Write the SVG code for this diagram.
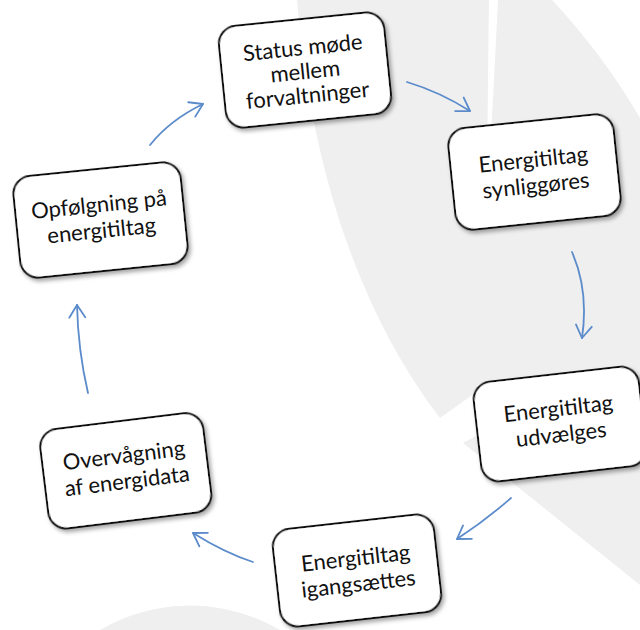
<svg xmlns="http://www.w3.org/2000/svg" width="640" height="630" viewBox="0 0 640 630">
  <defs>
    <style>
      .bg { fill: #efefef; stroke: none; }
      .box { fill: #ffffff; stroke: #111111; stroke-width: 2; filter: url(#shadow); }
      .lbl { font-family: Lato, "Open Sans", "Liberation Sans", sans-serif; font-size: 22px; fill: #111111; text-anchor: middle; }
      .conn { fill: none; stroke: #5b8bcb; stroke-width: 1.8; stroke-linecap: round; marker-end: url(#head); }
    </style>
    <filter id="shadow" x="-20%" y="-20%" width="140%" height="150%">
      <feDropShadow dx="2" dy="3" stdDeviation="2.2" flood-color="#000000" flood-opacity="0.35"/>
    </filter>
    <marker id="head" markerUnits="userSpaceOnUse" viewBox="-15 -10 20 20" refX="0" refY="0" markerWidth="20" markerHeight="20" orient="auto">
      <path d="M-12.5,-8 L0,0 L-12.5,8" fill="none" stroke="#5b8bcb" stroke-width="1.8" stroke-linecap="round" stroke-linejoin="round"/>
    </marker>
  </defs>

  <rect x="0" y="0" width="640" height="630" fill="#ffffff"/>

  <g id="background">
    <path class="bg" d="M297,0 L489,0 C488,60 488,130 486,200 C492,130 495,60 498,0 L552,0 C585,35 615,75 640,118 L640,585 L463,443 L520,412 L475,393 L440,418 C365,320 312,180 297,0 Z"/>
    <circle class="bg" cx="190" cy="783" r="177.5"/>
  </g>

  <g id="connectors">
    <path class="conn" d="M407,82 Q440,92 470,111"/>
    <path class="conn" d="M572,252 Q589,291 582,338"/>
    <path class="conn" d="M511,498 Q486,520 457,539"/>
    <path class="conn" d="M253,562 Q225,553 193,533"/>
    <path class="conn" d="M88,393 Q78,350 77,305"/>
    <path class="conn" d="M150,145 Q170,120 203,104"/>
  </g>

  <g id="node-status" transform="translate(305,70) rotate(-5.8)">
    <rect class="box" x="-83" y="-51" width="166" height="102" rx="18"/>
    <text class="lbl" x="0" y="-15">Status møde</text>
    <text class="lbl" x="0" y="9">mellem</text>
    <text class="lbl" x="0" y="33">forvaltninger</text>
  </g>

  <g id="node-synliggoeres" transform="translate(534.5,172) rotate(-5.9)">
    <rect class="box" x="-83" y="-51" width="166" height="102" rx="18"/>
    <text class="lbl" x="0" y="-5">Energitiltag</text>
    <text class="lbl" x="0" y="21">synliggøres</text>
  </g>

  <g id="node-udvaelges" transform="translate(560,424) rotate(-6.5)">
    <rect class="box" x="-83" y="-50" width="166" height="100" rx="18"/>
    <text class="lbl" x="0" y="-8">Energitiltag</text>
    <text class="lbl" x="0" y="18">udvælges</text>
  </g>

  <g id="node-igangsaettes" transform="translate(357,570.5) rotate(-6.4)">
    <rect class="box" x="-81" y="-49" width="162" height="98" rx="18"/>
    <text class="lbl" x="0" y="-5">Energitiltag</text>
    <text class="lbl" x="0" y="21">igangsættes</text>
  </g>

  <g id="node-overvaagning" transform="translate(125.8,470.8) rotate(-7)">
    <rect class="box" x="-82" y="-50" width="164" height="100" rx="18"/>
    <text class="lbl" x="0" y="-8">Overvågning</text>
    <text class="lbl" x="0" y="18">af energidata</text>
  </g>

  <g id="node-opfoelgning" transform="translate(100.5,220) rotate(-5.8)">
    <rect class="box" x="-84" y="-51" width="168" height="102" rx="18"/>
    <text class="lbl" x="0" y="-8">Opfølgning på</text>
    <text class="lbl" x="0" y="18">energitiltag</text>
  </g>
</svg>
